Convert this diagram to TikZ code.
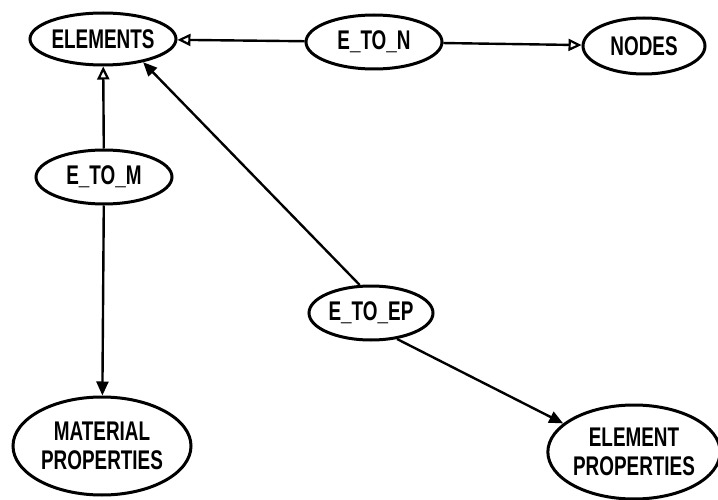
\documentclass[tikz,border=0pt]{standalone}
\usepackage{fontspec}
\setmainfont{Liberation Sans}[FakeStretch=0.7]
\usetikzlibrary{shapes.geometric,arrows.meta}
\begin{document}
\begin{tikzpicture}[x=1pt,y=-1pt,
  ent/.style={draw,ellipse,line width=3pt,inner sep=0pt,align=center,
    font=\fontsize{27}{29}\selectfont\bfseries},
  link/.style={line width=2.4pt},
  opentip/.style={-{Triangle[open,length=13pt,width=12pt,line width=2.2pt]}},
  filltip/.style={-{Triangle[length=14pt,width=12pt]}}]
\useasboundingbox (0,0) rectangle (718,500);
\node[ent,minimum width=146pt,minimum height=52pt] (el) at (103,39) {ELEMENTS};
\node[ent,minimum width=136pt,minimum height=54pt] (etn) at (374,42) {E\_TO\_N};
\node[ent,minimum width=122pt,minimum height=56pt] (nd) at (644,46) {NODES};
\node[ent,minimum width=136pt,minimum height=54pt] (etm) at (104,177) {E\_TO\_M};
\node[ent,minimum width=124pt,minimum height=54pt] (eep) at (371,313) {E\_TO\_EP};
\node[ent,minimum width=178pt,minimum height=98pt] (mp) at (102,446) {MATERIAL\\PROPERTIES};
\node[ent,minimum width=166pt,minimum height=94pt] (ep) at (634,452) {ELEMENT\\PROPERTIES};
\draw[link,opentip] (etn) -- (el);
\draw[link,opentip] (etn) -- (nd);
\draw[link,opentip] (etm) -- (el);
\draw[link,filltip] (etm) -- (mp);
\draw[link,filltip] (eep.112) -- (el.-30);
\draw[link,filltip] (eep.-45) -- (ep.158);
\end{tikzpicture}
\end{document}
